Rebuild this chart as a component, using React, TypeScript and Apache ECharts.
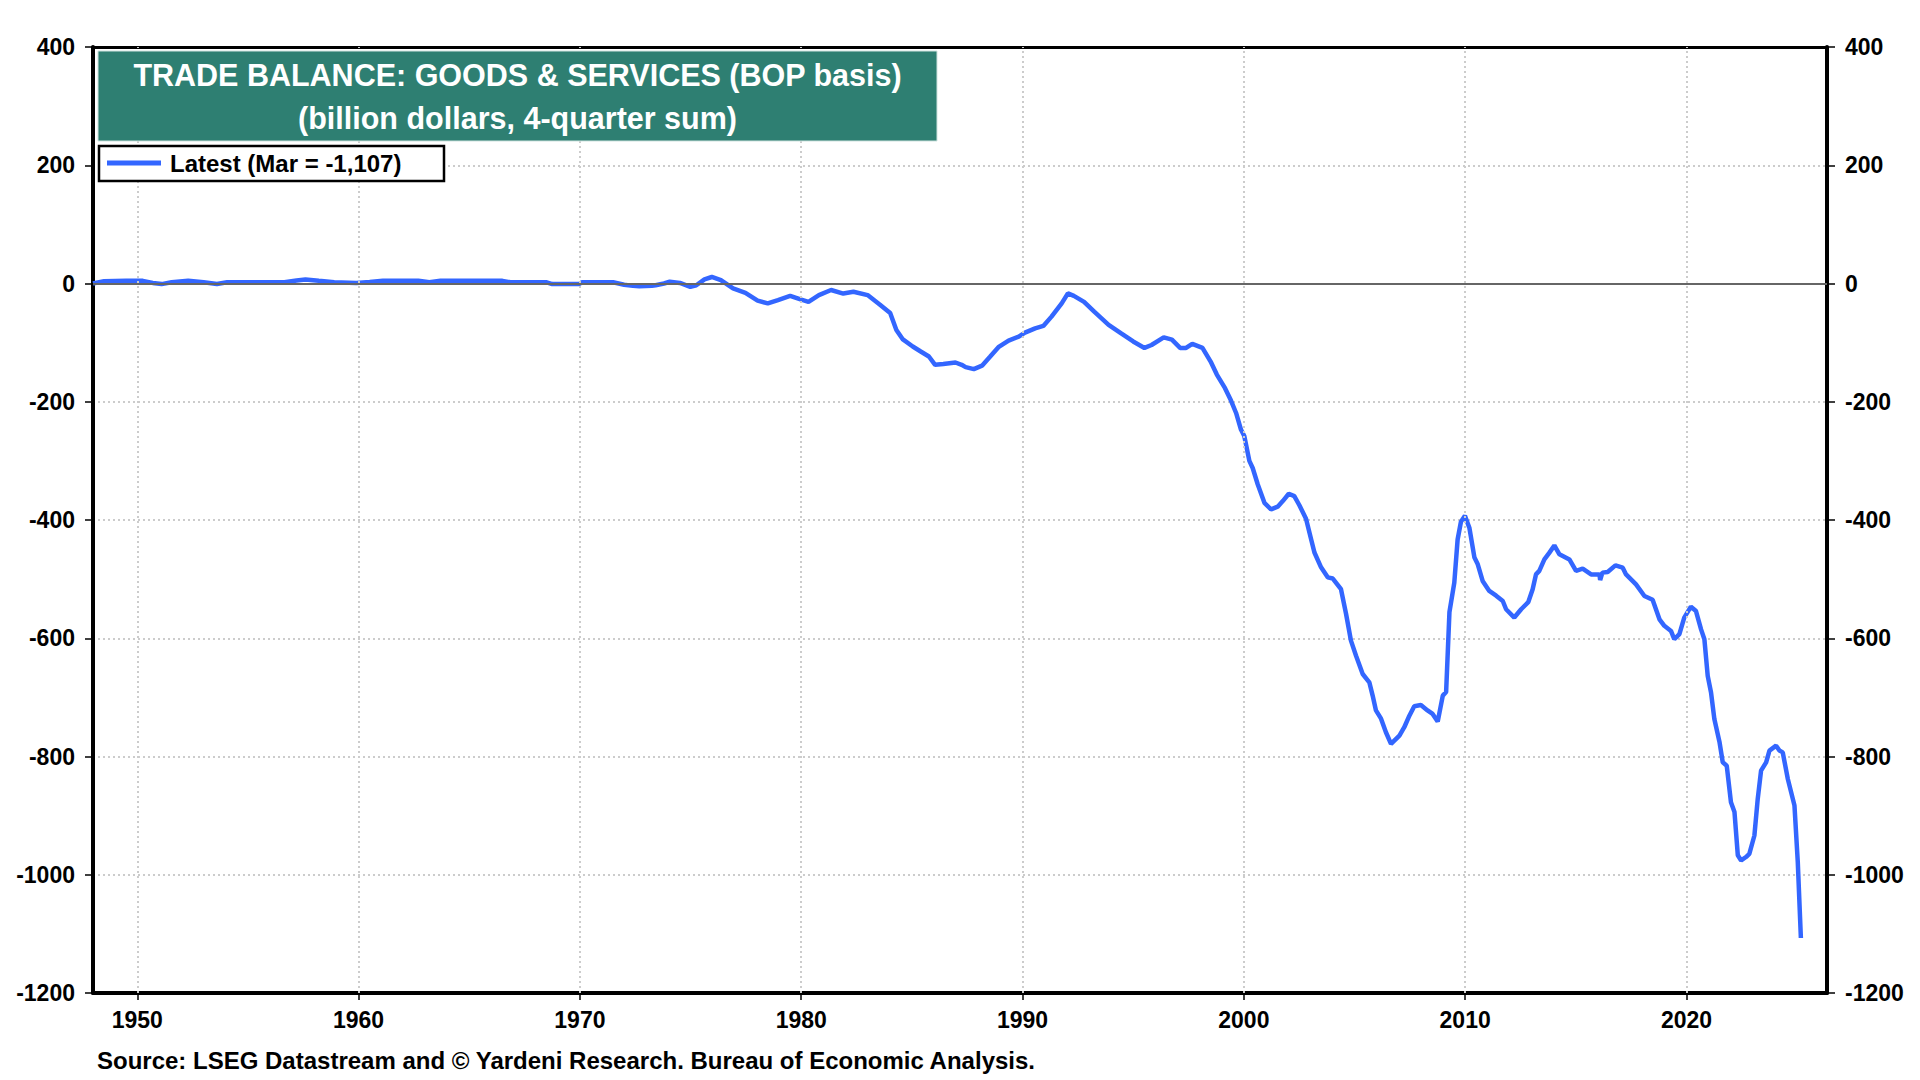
import React, { useEffect, useRef } from "react";
import * as echarts from "echarts";

// ---- Data ----
const years1 = [1948.0, 1948.5, 1949.5, 1950.25, 1950.7, 1951.1, 1951.55, 1952.3, 1953.0, 1953.6, 1954.06, 1955.5, 1956.65, 1957.2, 1957.6, 1958.2, 1958.9, 1959.9, 1960.5, 1961.1, 1962.7, 1963.2, 1963.7, 1965.0, 1966.5, 1966.85, 1968.5, 1968.75, 1969.96, 1970.1, 1971.5, 1972.0, 1972.4, 1972.68, 1973.25, 1973.42, 1973.8, 1974.06, 1974.52, 1974.99];
const values1 = [0, 4, 4.5, 4.5, 1, -1, 2, 4.5, 2, -1, 2, 2, 2, 5, 6.7, 4.5, 2, 1, 2.5, 4.5, 4.5, 2, 4.5, 4.5, 4.5, 2, 2, -1, -1, 2, 2, -2, -4, -4.5, -4, -3, 0, 3, 1, -5.6];

const years2 = [1975.26, 1975.63, 1975.96, 1976.37, 1976.92, 1977.48, 1978.03, 1978.49, 1978.95, 1979.5, 1979.97, 1980.33, 1980.8, 1981.35, 1981.9, 1982.36, 1983.0, 1983.56, 1984.02, 1984.3, 1984.58, 1985.04, 1985.4, 1985.77, 1986.05, 1986.42, 1986.97, 1987.25, 1987.43, 1987.8, 1988.17, 1988.54, 1988.91, 1989.37, 1989.83, 1990.11, 1990.57, 1990.94, 1991.31, 1991.77, 1992.05, 1992.32, 1992.78, 1993.24, 1993.89, 1994.44, 1995.0, 1995.51, 1995.83, 1996.38, 1996.75, 1997.12, 1997.39, 1997.67, 1998.13, 1998.5, 1998.78, 1999.15];
const values2 = [-3, 7, 11, 5.6, -8.4, -15.7, -29, -33.7, -28, -21, -27, -31, -19.6, -11, -17, -14, -19.6, -36, -50, -78.6, -94, -106.6, -115, -123.5, -137.5, -136, -133.6, -137.5, -141.4, -144.8, -139, -123.5, -107.7, -96.5, -89.8, -83, -75.8, -71.8, -56, -33.7, -16.8, -21, -31, -47.7, -70, -84, -98, -109, -104, -91, -95, -109, -109, -102, -109, -132, -154, -177];

const years3 = [1999.42, 1999.65, 1999.87, 2000.02, 2000.25, 2000.4, 2000.63, 2000.93, 2001.23, 2001.53, 2001.76, 2002.03, 2002.28, 2002.51, 2002.81, 2003.04, 2003.19, 2003.49, 2003.79, 2004.02, 2004.39, 2004.62, 2004.84, 2005.07, 2005.37, 2005.67, 2005.82, 2005.97, 2006.2, 2006.42, 2006.65, 2007.03, 2007.25, 2007.48, 2007.7, 2008.0, 2008.3, 2008.53, 2008.76, 2008.99, 2009.14, 2009.29, 2009.51, 2009.66, 2009.81, 2009.99, 2010.19, 2010.42, 2010.57, 2010.79, 2011.09, 2011.4, 2011.7, 2011.85, 2012.22, 2012.53, 2012.85, 2013.05, 2013.2, 2013.35, 2013.58, 2013.8, 2014.03, 2014.26, 2014.71];
const values3 = [-198, -219, -247, -258, -300, -312, -340, -371, -382, -377.5, -368, -355.6, -359.5, -375, -398, -432.6, -455, -480, -497, -499, -517, -559, -604, -629.5, -660.5, -674.5, -697, -722, -736, -759, -778.6, -764.6, -750.5, -731, -715, -713, -722, -728, -741, -697, -691, -556, -506, -433, -403, -393, -413, -463.6, -475, -503, -520, -528, -537, -551, -565, -551, -539, -517, -492, -486, -466.7, -455.6, -443, -458, -466.7];

const years4 = [2015.01, 2015.31, 2015.69, 2016.07, 2016.1, 2016.2, 2016.44, 2016.79, 2017.12, 2017.27, 2017.72, 2018.1, 2018.47, 2018.78, 2019.0, 2019.3, 2019.45, 2019.68, 2019.9, 2020.2, 2020.43, 2020.66, 2020.81, 2020.96, 2021.11, 2021.26, 2021.49, 2021.64, 2021.82, 2022.01, 2022.17, 2022.32, 2022.47, 2022.69, 2022.84, 2023.07, 2023.22, 2023.37, 2023.6, 2023.75, 2024.05, 2024.2, 2024.35, 2024.58, 2024.88, 2025.03, 2025.17];
const values4 = [-486, -482.4, -492, -492, -501.5, -489, -488, -476.8, -480.7, -492, -509, -528.6, -535, -568, -579, -587.6, -601.7, -593, -565, -546.6, -554, -585, -601.7, -663.6, -691.7, -736.7, -775, -809.8, -815.5, -877.4, -894, -967, -975.8, -970, -964.6, -933.6, -871.7, -824, -810, -790, -781.7, -790, -793, -838, -883, -978.6, -1107];

const decadeTicks = [1950, 1960, 1970, 1980, 1990, 2000, 2010, 2020];
const titleLine1 = "TRADE BALANCE: GOODS & SERVICES (BOP basis)";
const titleLine2 = "(billion dollars, 4-quarter sum)";
const legendLabel = "Latest (Mar = -1,107)";
const sourceText = "Source: LSEG Datastream and \u00A9 Yardeni Research. Bureau of Economic Analysis.";

const FONT = "'Liberation Sans', Arial, Helvetica, sans-serif";
const BLUE = "#3366FF";
const GRID_GRAY = "#cccccc";

export default function App() {
  const ref = useRef<HTMLDivElement | null>(null);

  useEffect(() => {
    if (!ref.current) return;
    const chart = echarts.init(ref.current, undefined, { renderer: "svg" });

    const allYears = [...years1, ...years2, ...years3, ...years4];
    const allValues = [...values1, ...values2, ...values3, ...values4];
    const seriesData = allYears.map((y, i) => [y, allValues[i]]);

    const labelStyle = {
      fontFamily: FONT,
      fontSize: 23,
      fontWeight: "bold" as const,
      color: "#000",
    };

    const yAxisBase = {
      type: "value" as const,
      min: -1200,
      max: 400,
      interval: 200,
      axisLine: { show: true, onZero: false, lineStyle: { color: "#000", width: 4 } },
      axisTick: { show: true, length: 8, lineStyle: { color: "#000", width: 1.5 } },
      axisLabel: { ...labelStyle, margin: 18, formatter: (v: number) => String(v) },
    };

    const option: any = {
      animation: false,
      grid: { left: 93, right: 93, top: 47, bottom: 87, containLabel: false },
      xAxis: [
        {
          type: "value",
          min: 1948,
          max: 2026.35,
          position: "bottom",
          axisLine: { show: true, onZero: false, lineStyle: { color: "#000", width: 4 } },
          axisTick: {
            show: true,
            customValues: decadeTicks,
            length: 7,
            lineStyle: { color: "#000", width: 1.5 },
          },
          axisLabel: {
            ...labelStyle,
            customValues: decadeTicks,
            margin: 15,
            formatter: (v: number) => String(v),
          },
          splitLine: { show: false },
        },
        {
          type: "value",
          min: 1948,
          max: 2026.35,
          position: "top",
          axisLine: { show: true, onZero: false, lineStyle: { color: "#000", width: 3 } },
          axisTick: { show: false },
          axisLabel: { show: false },
          splitLine: { show: false },
        },
      ],
      yAxis: [
        {
          ...yAxisBase,
          position: "left",
          splitLine: { show: true, lineStyle: { color: GRID_GRAY, type: [2, 3], width: 2 } },
        },
        {
          ...yAxisBase,
          position: "right",
          splitLine: { show: false },
        },
      ],
      series: [
        {
          type: "line",
          data: [],
          z: 1,
          silent: true,
          markLine: {
            silent: true,
            symbol: "none",
            label: { show: false },
            animation: false,
            data: [
              ...decadeTicks.map((y) => ({
                xAxis: y,
                lineStyle: { color: GRID_GRAY, type: [2, 3], width: 2 },
              })),
              { yAxis: 0, lineStyle: { color: "#666666", type: "solid", width: 2 } },
            ],
          },
        },
        {
          type: "line",
          data: seriesData,
          z: 3,
          showSymbol: false,
          symbol: "none",
          lineStyle: { color: BLUE, width: 4.5 },
          itemStyle: { color: BLUE },
        },
      ],
      graphic: [
        {
          type: "rect",
          shape: { x: 98, y: 51, width: 839, height: 90 },
          style: { fill: "#2E7F72", stroke: "#cfe3df", lineWidth: 1 },
          z: 10,
        },
        {
          type: "text",
          x: 517.5,
          y: 75,
          style: {
            text: titleLine1,
            fontFamily: FONT,
            fontSize: 30.5,
            fontWeight: "bold",
            fill: "#ffffff",
            align: "center",
            verticalAlign: "middle",
          },
          z: 11,
        },
        {
          type: "text",
          x: 517.5,
          y: 118,
          style: {
            text: titleLine2,
            fontFamily: FONT,
            fontSize: 30.5,
            fontWeight: "bold",
            fill: "#ffffff",
            align: "center",
            verticalAlign: "middle",
          },
          z: 11,
        },
        {
          type: "rect",
          shape: { x: 99, y: 146, width: 345, height: 35 },
          style: { fill: "#ffffff", stroke: "#000000", lineWidth: 2.5 },
          z: 10,
        },
        {
          type: "line",
          shape: { x1: 107, y1: 163, x2: 161, y2: 163 },
          style: { stroke: BLUE, lineWidth: 5 },
          z: 11,
        },
        {
          type: "text",
          x: 170,
          y: 163,
          style: {
            text: legendLabel,
            fontFamily: FONT,
            fontSize: 24,
            fontWeight: "bold",
            fill: "#000000",
            align: "left",
            verticalAlign: "middle",
          },
          z: 11,
        },
        {
          type: "text",
          x: 97,
          y: 1060,
          style: {
            text: sourceText,
            fontFamily: FONT,
            fontSize: 24,
            fontWeight: "bold",
            fill: "#000000",
            align: "left",
            verticalAlign: "middle",
          },
          z: 11,
        },
      ],
    };

    chart.setOption(option);
    return () => {
      chart.dispose();
    };
  }, []);

  return (
    <div
      ref={ref}
      style={{ position: "absolute", left: 0, top: 0, width: 1920, height: 1080, background: "#fff" }}
    />
  );
}
